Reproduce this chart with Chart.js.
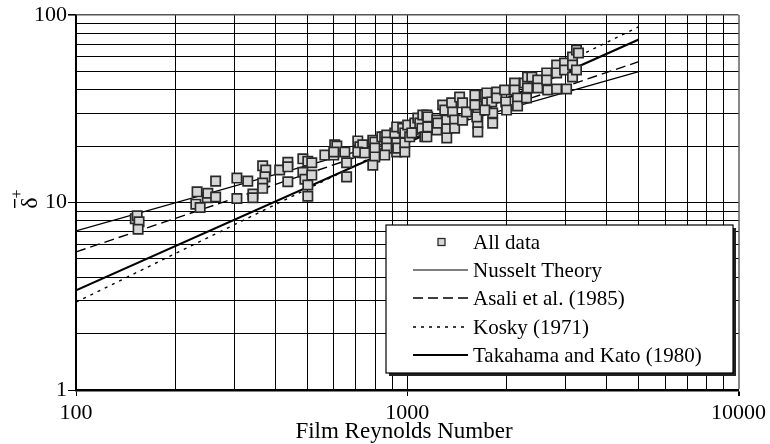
<!DOCTYPE html>
<html>
<head>
<meta charset="utf-8">
<script src="https://cdn.jsdelivr.net/npm/chart.js@4"></script>
<style>
  html, body { margin: 0; padding: 0; background: #fff; }
  #wrap { width: 770px; height: 444px; }
</style>
</head>
<body>
<div id="wrap"><canvas id="chart" width="770" height="444"></canvas></div>
<script>
// measured data (Film Reynolds number vs mean film thickness)
const dataRe = [
  151, 153, 155, 154, 230, 232, 237, 249, 250, 264, 264, 306, 306, 330, 342, 342,
  366, 374, 372, 366, 366, 412, 436, 436, 436, 484, 501, 515, 484, 491, 515, 501, 501,
  564, 600, 604, 613, 600, 648, 656, 656, 709, 719, 734, 729, 709, 744, 787, 798, 798,
  798, 787, 838, 855, 867, 867, 867, 855, 917, 929, 929, 929, 936, 969, 983, 983, 983,
  1003, 1017, 1032, 1054, 1076, 1091, 1107, 1114, 1130, 1146, 1153, 1153, 1146, 1228,
  1228, 1236, 1279, 1298, 1316, 1316, 1316, 1362, 1371, 1390, 1390, 1439, 1469, 1469,
  1510, 1600, 1622, 1633, 1633, 1633, 1714, 1738, 1738, 1799, 1811, 1811, 1862, 1862,
  1968, 1983, 1995, 2109, 2109, 2153, 2153, 2260, 2307, 2291, 2307, 2377, 2477, 2477,
  2636, 2636, 2655, 2825, 2825, 2825, 2985, 2985, 3027, 3155, 3155, 3155, 3243, 3289,
  3243, 1600, 1622, 1714
];
const dataDelta = [
  8.2, 8.5, 7.9, 7.2, 9.8, 11.4, 9.4, 10.6, 11.2, 13.0, 10.7, 13.5, 10.5, 13.0, 11.1, 10.6,
  15.7, 14.9, 13.7, 12.7, 11.9, 14.9, 16.4, 15.5, 12.9, 17.1, 16.6, 16.3, 14.5, 13.3, 14.0, 12.4, 10.8,
  17.9, 17.9, 20.3, 20.0, 18.6, 18.6, 16.3, 13.7, 21.3, 19.8, 20.3, 18.4, 18.6, 18.4, 21.5, 21.0, 19.5,
  17.5, 15.8, 22.4, 22.4, 22.9, 21.0, 19.5, 17.9, 23.5, 25.3, 20.8, 18.6, 19.5, 24.9, 23.5, 20.8, 18.6,
  25.9, 22.4, 23.5, 26.5, 28.2, 26.5, 24.9, 29.3, 22.4, 29.3, 28.6, 25.3, 22.4, 27.5,
  24.4, 26.5, 33.1, 31.1, 27.5, 24.7, 22.1, 34.0, 30.4, 27.5, 24.9, 36.5, 34.0, 27.5,
  30.4, 37.4, 32.7, 30.0, 26.5, 23.8, 37.4, 38.4, 34.0, 34.4, 30.0, 26.5, 38.8, 36.1,
  39.8, 34.4, 31.1, 43.4, 39.8, 36.1, 32.7, 43.4, 40.8, 36.1, 46.7, 46.7, 45.0, 40.8,
  49.1, 45.0, 39.8, 54.1, 49.1, 40.3, 55.5, 50.9, 40.3, 59.7, 54.1, 46.7, 65.0, 62.7,
  50.9, 33.1, 28.6, 31.1
];

// correlations, end points
const lineRe = [100, 5000];
const nusselt = [7.05, 49.9];
const asali = [5.45, 56.4];
const kosky = [2.94, 86.6];
const takahama = [3.40, 74.1];

const seriesNames = ['All data', 'Nusselt Theory', 'Asali et al. (1985)', 'Kosky (1971)', 'Takahama and Kato (1980)'];

const xGrid = [100, 200, 300, 400, 500, 600, 700, 800, 900, 1000, 2000, 3000, 4000, 5000, 6000, 7000, 8000, 9000, 10000];
const yGrid = [1, 2, 3, 4, 5, 6, 7, 8, 9, 10, 20, 30, 40, 50, 60, 70, 80, 90, 100];
const xLabels = [100, 1000, 10000];
const yLabels = [1, 10, 100];

const serif = "'Liberation Serif', 'Times New Roman', serif";

function pts(xs, ys) {
  return xs.map((x, i) => ({ x: x, y: ys[i] }));
}

const lineStyle = {
  showLine: true,
  pointRadius: 0,
  borderColor: '#000',
  fill: false,
  order: 2
};

// legend box + axis titles
const decorations = {
  id: 'decorations',
  afterDraw(chart) {
    const ctx = chart.ctx;
    const ds = chart.data.datasets;
    ctx.save();

    // x title
    ctx.fillStyle = '#000';
    ctx.font = '23px ' + serif;
    ctx.textAlign = 'center';
    ctx.textBaseline = 'alphabetic';
    ctx.fillText('Film Reynolds Number', 404, 438);

    // y title, rotated
    ctx.save();
    ctx.translate(37, 203);
    ctx.rotate(-Math.PI / 2);
    ctx.font = '24px ' + serif;
    ctx.textAlign = 'center';
    ctx.fillText('δ', 0, 0);
    ctx.fillRect(-5, -23, 9, 1.4);
    ctx.font = '16px ' + serif;
    ctx.fillText('+', 9, -15);
    ctx.restore();

    // legend
    const bx = 386, by = 225, bw = 347, bh = 148;
    ctx.fillStyle = '#222';
    ctx.fillRect(bx + 3, by + 3, bw, bh);
    ctx.fillStyle = '#fff';
    ctx.fillRect(bx, by, bw, bh);
    ctx.strokeStyle = '#000';
    ctx.lineWidth = 1.2;
    ctx.strokeRect(bx, by, bw, bh);

    const rowY = [242, 270, 298, 327, 355];
    ctx.font = '21px ' + serif;
    ctx.textAlign = 'left';
    ctx.textBaseline = 'middle';
    ds.forEach((d, i) => {
      const y = rowY[i];
      if (i === 0) {
        ctx.fillStyle = d.backgroundColor;
        ctx.fillRect(438, y - 3.5, 7, 7);
        ctx.strokeStyle = d.borderColor;
        ctx.lineWidth = 1.3;
        ctx.strokeRect(438, y - 3.5, 7, 7);
      } else {
        ctx.strokeStyle = '#000';
        ctx.lineWidth = d.borderWidth;
        ctx.setLineDash(d.borderDash || []);
        ctx.beginPath();
        ctx.moveTo(413, y);
        ctx.lineTo(468, y);
        ctx.stroke();
        ctx.setLineDash([]);
      }
      ctx.fillStyle = '#000';
      ctx.fillText(d.label, 473, y + 1);
    });
    ctx.restore();
  }
};

new Chart(document.getElementById('chart'), {
  type: 'scatter',
  data: {
    datasets: [
      {
        label: seriesNames[0],
        data: pts(dataRe, dataDelta),
        pointStyle: 'rect',
        pointRadius: 6.6,
        pointHoverRadius: 6.6,
        backgroundColor: '#d6d6d6',
        borderColor: '#2a2a2a',
        borderWidth: 1.7,
        order: 1
      },
      Object.assign({ label: seriesNames[1], data: pts(lineRe, nusselt), borderWidth: 1.2 }, lineStyle),
      Object.assign({ label: seriesNames[2], data: pts(lineRe, asali), borderWidth: 1.4, borderDash: [10, 5] }, lineStyle),
      Object.assign({ label: seriesNames[3], data: pts(lineRe, kosky), borderWidth: 1.4, borderDash: [3, 5] }, lineStyle),
      Object.assign({ label: seriesNames[4], data: pts(lineRe, takahama), borderWidth: 2.2 }, lineStyle)
    ]
  },
  options: {
    responsive: false,
    animation: false,
    events: [],
    layout: { padding: { left: 0, right: 30, top: 15, bottom: 0 } },
    plugins: {
      legend: { display: false },
      tooltip: { enabled: false }
    },
    scales: {
      x: {
        type: 'logarithmic',
        min: 100,
        max: 10000,
        afterBuildTicks(scale) {
          scale.ticks = xGrid.map(v => ({ value: v }));
        },
        afterFit(scale) {
          scale.height = 54;
        },
        ticks: {
          autoSkip: false,
          maxRotation: 0,
          padding: 4,
          color: '#000',
          font: { family: serif, size: 22 },
          callback: v => xLabels.includes(v) ? String(v) : ''
        },
        grid: {
          color: ctx => (ctx.tick && ctx.tick.value === 10000) ? '#888' : '#000',
          lineWidth: ctx => (ctx.tick && ctx.tick.value === 10000) ? 2 : 1,
          tickLength: 6,
          tickColor: ctx => (ctx.tick && xLabels.includes(ctx.tick.value)) ? '#000' : 'rgba(0,0,0,0)'
        },
        border: { color: '#000', width: 2.5 }
      },
      y: {
        type: 'logarithmic',
        min: 1,
        max: 100,
        afterBuildTicks(scale) {
          scale.ticks = yGrid.map(v => ({ value: v }));
        },
        afterFit(scale) {
          scale.width = 76;
        },
        ticks: {
          autoSkip: false,
          padding: 1,
          color: '#000',
          font: { family: serif, size: 22 },
          callback: v => yLabels.includes(v) ? String(v) : ''
        },
        grid: {
          color: ctx => (ctx.tick && ctx.tick.value === 100) ? '#555' : '#000',
          lineWidth: ctx => (ctx.tick && ctx.tick.value === 100) ? 1.6 : 1,
          tickLength: 8,
          tickColor: ctx => (ctx.tick && yLabels.includes(ctx.tick.value)) ? '#000' : 'rgba(0,0,0,0)'
        },
        border: { color: '#000', width: 1.5 }
      }
    }
  },
  plugins: [decorations]
});
</script>
</body>
</html>
